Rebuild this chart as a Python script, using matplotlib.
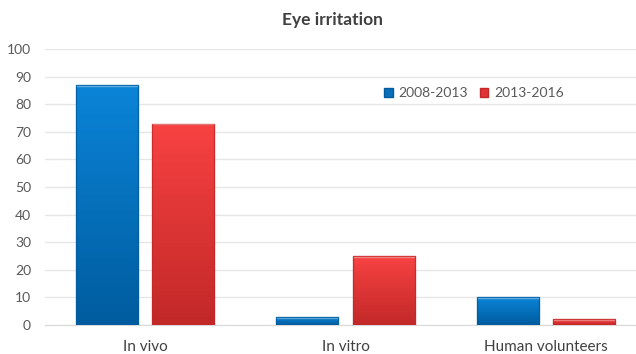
import numpy as np
import matplotlib.pyplot as plt
from matplotlib.colors import LinearSegmentedColormap
from matplotlib.patches import Rectangle, Patch

plt.rcParams['font.family'] = ['Lato', 'DejaVu Sans']

categories = ["In vivo", "In vitro", "Human volunteers"]
series_names = ["2008-2013", "2013-2016"]
values_2008_2013 = [87, 3, 10]
values_2013_2016 = [73, 25, 2]
yticks = list(range(0, 101, 10))

palettes = [
    ("#0b84d8", "#005c9e", "#0a6fb8"),  # blue: top, bottom, legend
    ("#f84242", "#c22828", "#e03333"),  # red
]

fig = plt.figure(figsize=(6.36, 3.54), dpi=100)
ax = fig.add_axes([45 / 636, 1 - 325 / 354, (636 - 45) / 636, (325 - 49) / 354])

x = np.arange(len(categories))
width = 0.31
offsets = [-0.19, 0.19]

grad = np.linspace(0, 1, 256).reshape(-1, 1)
for vals, off, (top, bot, _) in zip([values_2008_2013, values_2013_2016], offsets, palettes):
    cmap = LinearSegmentedColormap.from_list("g", [bot, top])
    bars = ax.bar(x + off, vals, width, color="none", zorder=3)
    for b in bars:
        x0, w, h = b.get_x(), b.get_width(), b.get_height()
        im = ax.imshow(grad, extent=[x0, x0 + w, 0, h], origin="lower",
                       cmap=cmap, aspect="auto", zorder=3)
        clip = Rectangle((x0, 0), w, h, transform=ax.transData)
        im.set_clip_path(clip)
        ax.add_patch(Rectangle((x0, 0), w, h, fill=False, edgecolor=bot,
                               linewidth=1.0, alpha=0.8, zorder=4))
        # light bevel along the top edge
        ax.plot([x0 + 0.005, x0 + w - 0.005], [h - 0.35, h - 0.35],
                color="white", alpha=0.35, linewidth=1.0, zorder=5)

ax.set_xlim(-0.5, 2.45)
ax.set_ylim(0, 100)
ax.set_yticks(yticks)
ax.set_xticks(x)
ax.set_xticklabels(categories, fontsize=11, color="#404040")
ax.tick_params(axis="y", labelsize=10, labelcolor="#595959", length=0, pad=10)
ax.tick_params(axis="x", length=0, pad=11)
ax.grid(axis="y", color="#e6e6e6", linewidth=1.0, zorder=0)
for s in ["top", "right", "left"]:
    ax.spines[s].set_visible(False)
ax.spines["bottom"].set_color("#d9d9d9")

fig.text(0.5 + 14 / 636, 1 - 20 / 354, "Eye irritation", ha="center", va="center",
         fontsize=12.5, fontweight="bold", color="#404040")

handles = [Patch(facecolor=p[2], edgecolor=p[1]) for p in palettes]
leg = ax.legend(handles, series_names, loc="center", bbox_to_anchor=(474 / 636, 1 - 93 / 354),
                bbox_transform=fig.transFigure, ncol=2, frameon=False, fontsize=10,
                handlelength=0.6, handleheight=0.6, handletextpad=0.4, columnspacing=0.9)
for t in leg.get_texts():
    t.set_color("#595959")

fig.savefig("out.png", dpi=100)
